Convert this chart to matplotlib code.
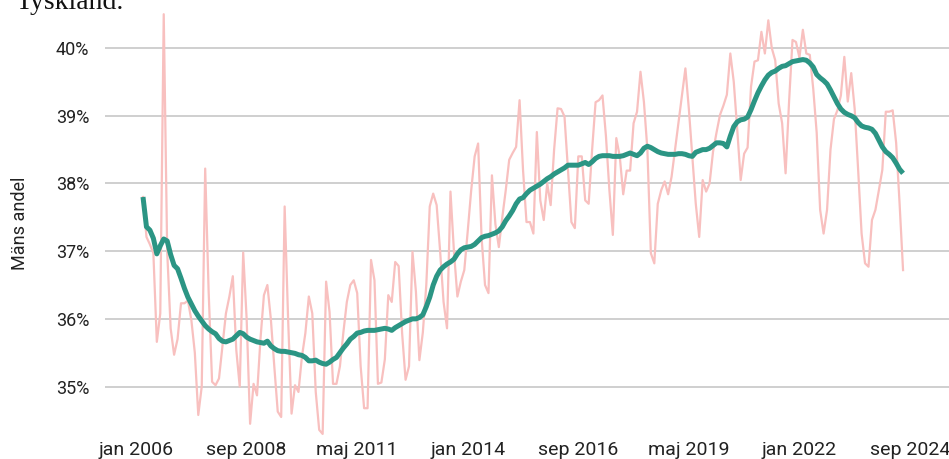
import numpy as np
import matplotlib
matplotlib.use("Agg")
import matplotlib.pyplot as plt

# Mäns andel per månad (procent), mars 2006 - juli 2024
andel_manad = [
    37.8, 37.21, 37.1, 36.97, 35.66, 36.08, 40.5, 37.0, 35.86, 35.47, 35.7, 36.23,
    36.23, 36.27, 35.98, 35.5, 34.58, 35.0, 38.22, 36.4, 35.07, 35.02, 35.12, 35.6,
    36.08, 36.33, 36.63, 35.54, 35.0, 36.98, 36.0, 34.45, 35.04, 34.87, 35.7,
    36.35, 36.5, 36.0, 35.3, 34.63, 34.55, 37.66, 36.0, 34.6, 35.02, 34.92, 35.44,
    35.79, 36.33, 36.08, 34.92, 34.36, 34.3, 36.55, 36.1, 35.04, 35.04, 35.3, 35.8,
    36.25, 36.5, 36.57, 36.38, 35.3, 34.68, 34.68, 36.87, 36.57, 35.04, 35.06, 35.4,
    36.35, 36.25, 36.84, 36.78, 35.79, 35.1, 35.3, 36.99, 36.4, 35.39, 35.8,
    36.5, 37.66, 37.85, 37.68, 37.0, 36.25, 35.86, 37.88, 37.0, 36.33, 36.55, 36.72,
    37.3, 37.9, 38.4, 38.59, 37.2, 36.5, 36.38, 38.12, 37.4, 37.06, 37.5, 37.9,
    38.35, 38.45, 38.54, 39.23, 38.2, 37.43, 37.43, 37.26, 38.76, 37.75, 37.46, 38.0,
    37.68, 38.5, 39.11, 39.1, 38.99, 38.2, 37.43, 37.34, 38.4, 38.4, 37.75, 37.7,
    38.5, 39.2, 39.23, 39.3, 38.7, 37.9, 37.24, 38.67, 38.4, 37.84, 38.19,
    38.19, 38.89, 39.06, 39.65, 39.2, 38.5, 36.97, 36.82, 37.7, 37.9, 38.03, 37.84,
    38.1, 38.5, 38.9, 39.3, 39.7, 39.1, 38.4, 37.7, 37.21, 38.05, 37.88, 38.0,
    38.47, 38.75, 39.01, 39.15, 39.31, 39.92, 39.5, 38.8, 38.05, 38.44, 38.53, 39.43,
    39.8, 39.82, 40.24, 39.92, 40.41, 40.0, 39.82, 39.18, 38.89, 38.15, 39.2, 40.12,
    40.09, 39.86, 40.27, 39.92, 39.9, 39.4, 38.75, 37.61, 37.26, 37.61, 38.5,
    38.95, 39.08, 39.3, 39.87, 39.21, 39.63, 39.1, 38.2, 37.26, 36.82, 36.77, 37.46,
    37.61, 37.9, 38.2, 39.06, 39.06, 39.08, 38.6, 37.7, 36.72,
]

# trendlinjen (den tjocka gröna)
andel_trend = [
    37.8, 37.36, 37.31, 37.19, 36.96, 37.08, 37.18, 37.15, 36.95, 36.79, 36.74, 36.6,
    36.45, 36.32, 36.22, 36.12, 36.04, 35.97, 35.9, 35.85, 35.81, 35.78, 35.71, 35.67,
    35.66, 35.68, 35.7, 35.75, 35.8, 35.78, 35.73, 35.7, 35.68, 35.66, 35.65,
    35.64, 35.67, 35.6, 35.56, 35.53, 35.52, 35.52, 35.51, 35.5, 35.49, 35.47, 35.46,
    35.43, 35.38, 35.38, 35.39, 35.36, 35.34, 35.33, 35.36, 35.4, 35.43, 35.5, 35.57,
    35.63, 35.7, 35.74, 35.79, 35.8, 35.82, 35.83, 35.83, 35.83, 35.84, 35.85, 35.86,
    35.85, 35.83, 35.87, 35.9, 35.93, 35.96, 35.98, 36.0, 36.0, 36.02, 36.06,
    36.18, 36.32, 36.5, 36.63, 36.72, 36.77, 36.81, 36.84, 36.88, 36.96, 37.02, 37.05,
    37.06, 37.07, 37.1, 37.15, 37.2, 37.22, 37.23, 37.25, 37.27, 37.3, 37.36, 37.45,
    37.52, 37.6, 37.7, 37.77, 37.79, 37.85, 37.9, 37.93, 37.96, 37.99, 38.03, 38.07,
    38.1, 38.14, 38.17, 38.2, 38.23, 38.27, 38.27, 38.27, 38.27, 38.29, 38.31, 38.28,
    38.32, 38.37, 38.4, 38.41, 38.41, 38.41, 38.4, 38.4, 38.4, 38.41, 38.43,
    38.45, 38.43, 38.41, 38.45, 38.52, 38.55, 38.53, 38.5, 38.47, 38.45, 38.44, 38.43,
    38.43, 38.43, 38.44, 38.44, 38.43, 38.41, 38.4, 38.46, 38.48, 38.5, 38.5, 38.52,
    38.56, 38.6, 38.6, 38.59, 38.54, 38.7, 38.84, 38.91, 38.94, 38.95, 38.98, 39.09,
    39.22, 39.34, 39.44, 39.53, 39.6, 39.64, 39.66, 39.7, 39.73, 39.74, 39.77, 39.8,
    39.81, 39.82, 39.83, 39.82, 39.78, 39.72, 39.61, 39.56, 39.52, 39.47, 39.38,
    39.28, 39.18, 39.1, 39.05, 39.02, 39.0, 38.97, 38.9, 38.85, 38.83, 38.82, 38.8,
    38.74, 38.64, 38.54, 38.47, 38.43, 38.38, 38.3, 38.21, 38.15,
]

forsta_manad = 2  # mars 2006, räknat i månader från jan 2006
x_etiketter = ["jan 2006", "sep 2008", "maj 2011", "jan 2014",
               "sep 2016", "maj 2019", "jan 2022", "sep 2024"]
etikett_steg = 32  # månader mellan etiketterna
y_varden = [35, 36, 37, 38, 39, 40]

plt.rcParams["font.family"] = ["Roboto", "DejaVu Sans"]

W, H = 949, 459
fig = plt.figure(figsize=(W / 100, H / 100), dpi=100)
ax = fig.add_axes([105 / W, 1 - 438 / H, 1 - 105 / W, 438 / H])

x = forsta_manad + np.arange(len(andel_manad))
ax.plot(x, andel_manad, color="#f8c0bf", lw=1.6, solid_joinstyle="round", zorder=2)
ax.plot(x, andel_trend, color="#2b9584", lw=3.6, solid_capstyle="butt",
        solid_joinstyle="round", zorder=3)

ax.set_xlim(-9.0, 235.3)
ax.set_ylim(34.24, 40.71)

ax.set_yticks(y_varden)
ax.set_yticklabels([f"{v}%" for v in y_varden], fontsize=13)
ax.set_xticks(np.arange(len(x_etiketter)) * etikett_steg)
ax.set_xticklabels(x_etiketter, fontsize=14)
ax.tick_params(axis="both", length=0, colors="#222222")
ax.tick_params(axis="y", pad=11.5)
ax.tick_params(axis="x", pad=2)

ax.grid(axis="y", color="#cccccc", lw=1.3)
ax.set_axisbelow(True)
for s in ax.spines.values():
    s.set_visible(False)

fig.text(20 / W, 1 - 223 / H, "Mäns andel", rotation=90, ha="center", va="center",
         fontsize=13, color="#222222")
# rubriken syns bara delvis i överkanten, som i förlagan
fig.text(15 / W, 1 - 9 / H, "Tyskland.", fontsize=20, family=["Liberation Serif", "DejaVu Serif"],
         va="baseline", ha="left", color="#111111")

fig.savefig("out.png", dpi=100)
